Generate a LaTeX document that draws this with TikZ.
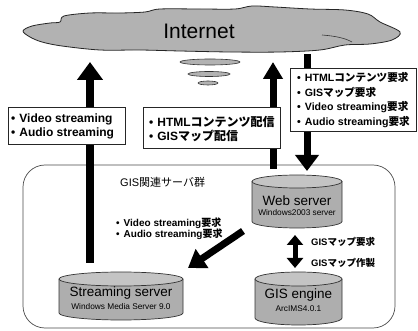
\documentclass[tikz,border=0pt]{standalone}
\usepackage{fontspec}
\setmainfont{Liberation Sans}
\newfontfamily\jp{Noto Sans CJK JP}
\usetikzlibrary{arrows.meta}
\newcommand\J[1]{{\jp #1}}
\newcommand\bul{\textbullet\hspace{4pt}}
\definecolor{cloudgray}{HTML}{B2B2B2}
\definecolor{cylbody}{HTML}{AEAEAE}
\definecolor{cyltop}{HTML}{C4C4C4}
\newcommand\mycyl[7]{%
  \fill[#6] (#1-#4,#2+#5) -- (#1-#4,#3-#5) arc[start angle=180,end angle=360,x radius=#4pt,y radius=#5pt] -- (#1+#4,#2+#5) -- cycle;
  \draw[cylline] (#1-#4,#2+#5) -- (#1-#4,#3-#5) arc[start angle=180,end angle=360,x radius=#4pt,y radius=#5pt] -- (#1+#4,#2+#5);
  \draw[cylline,fill=#7] (#1,#2+#5) ellipse[x radius=#4pt,y radius=#5pt];}
\begin{document}
\begin{tikzpicture}[x=1pt,y=-1pt,
  tbox/.style={draw=black!85,line width=0.7pt,fill=white,inner sep=0pt},
  btext/.style={anchor=west,align=left,inner sep=0pt,font=\bfseries\fontsize{12}{14}\selectfont},
  cylline/.style={draw=black!80,line width=0.7pt},
  bigname/.style={font=\fontsize{13.5}{15}\selectfont,inner sep=0pt},
  smallname/.style={font=\fontsize{8.3}{9}\selectfont,inner sep=0pt},
  fatarrow/.style={line width=#1pt},
  smallell/.style={draw=black!80,line width=0.6pt,fill=cloudgray}]
\useasboundingbox (0,0) rectangle (418,331);
\fill[white] (0,0) rectangle (418,331);

% group box
\node[draw=black!70,line width=0.7pt,rounded corners=22pt,minimum width=372pt,minimum height=163pt,inner sep=0pt] (group) at (209,246.5) {};
\node[anchor=west,inner sep=0pt,font=\fontsize{11}{12}\selectfont] (grouplabel) at (120,182) {GIS\J{関連サーバ群}};

% cloud
\draw[fill=cloudgray,line width=0.8pt,draw=black!85] plot[smooth cycle,tension=0.55] coordinates {
 (23,31) (32,26) (50,23) (60,22) (64,16) (90,13) (120,13) (145,12) (160,9) (200,9) (235,9) (252,6) (275,7) (310,9) (345,10) (368,14) (380,22) (400,32) (392,40) (370,44) (345,45) (320,50) (280,52) (230,52) (180,51) (140,50) (100,50) (62,46) (42,42) (30,37)};
\draw[black!80,line width=0.6pt] (322,35) .. controls (335,36) and (345,38) .. (352,42);
\node[font=\fontsize{21}{22}\selectfont,inner sep=0pt] (inet) at (199,31) {Internet};

% small ellipses
\draw[smallell] (210,62) ellipse[x radius=30pt,y radius=3pt];
\draw[smallell] (209,74) ellipse[x radius=21pt,y radius=2.5pt];
\draw[smallell] (208,83) ellipse[x radius=10pt,y radius=2pt];

% coordinates for arrows
\coordinate (lA) at (90,263);
\coordinate (lB) at (90,62);
\coordinate (mA) at (273,169);
\coordinate (mB) at (273,62);
\coordinate (rA) at (307,54);
\coordinate (rB) at (307,171);
\coordinate (dA) at (243,231);
\coordinate (dB) at (188,268);
\coordinate (vA) at (295,235);
\coordinate (vB) at (295,268);

\draw[line width=8pt,-{Triangle[width=25pt,length=18pt]}] (lA) -- (lB);
\draw[line width=7pt,-{Triangle[width=19pt,length=17pt]}] (mA) -- (mB);
\draw[line width=7pt,-{Triangle[width=23pt,length=16pt]}] (rA) -- (rB);
\draw[line width=7pt,-{Triangle[width=22pt,length=17pt]}] (dA) -- (dB);
\draw[line width=5pt,{Triangle[width=16pt,length=10pt]}-{Triangle[width=16pt,length=10pt]}] (vA) -- (vB);

% boxes
\node[tbox,minimum width=117pt,minimum height=37pt] (b1) at (66.5,125.5) {};
\node[btext] (b1t) at (11,126) {\bul Video streaming\\\bul Audio streaming};
\node[tbox,minimum width=137pt,minimum height=41pt] (b2) at (211.5,127.5) {};
\node[btext] (b2t) at (149,129) {\bul HTML\J{コンテンツ配信}\\\bul GIS\J{マップ配信}};
\node[tbox,minimum width=126pt,minimum height=63pt] (b3) at (353,99.5) {};
\node[btext,font=\bfseries\fontsize{10.6}{14.7}\selectfont] (b3t) at (297,100) {\bul HTML\J{コンテンツ要求}\\\bul GIS\J{マップ要求}\\\bul Video streaming\J{要求}\\\bul Audio streaming\J{要求}};

% middle labels
\node[btext,font=\bfseries\fontsize{10}{11}\selectfont] (req) at (116,228.5) {\bul Video streaming\J{要求}\\\bul Audio streaming\J{要求}};
\node[btext,font=\bfseries\fontsize{9.5}{10}\selectfont] (gisreq) at (311,242) {GIS\J{マップ要求}};
\node[btext,font=\bfseries\fontsize{9.5}{10}\selectfont] (gismake) at (311,263) {GIS\J{マップ作製}};

% cylinders
\mycyl{297}{175}{228}{45}{6.5}{cylbody}{cyltop}
\node[bigname] (web) at (297,201) {Web server};
\node[smallname] (websub) at (297,213) {Windows2003 server};
\mycyl{121}{272}{320}{62}{7}{cylbody}{cyltop}
\node[bigname] (stream) at (121,293) {Streaming server};
\node[smallname] (streamsub) at (121,307) {Windows Media Server 9.0};
\mycyl{298.5}{272}{325}{43.5}{7}{cylbody}{cyltop}
\node[bigname] (gis) at (298.5,295) {GIS engine};
\node[smallname] (gissub) at (298.5,309) {ArcIMS4.0.1};
\end{tikzpicture}
\end{document}
